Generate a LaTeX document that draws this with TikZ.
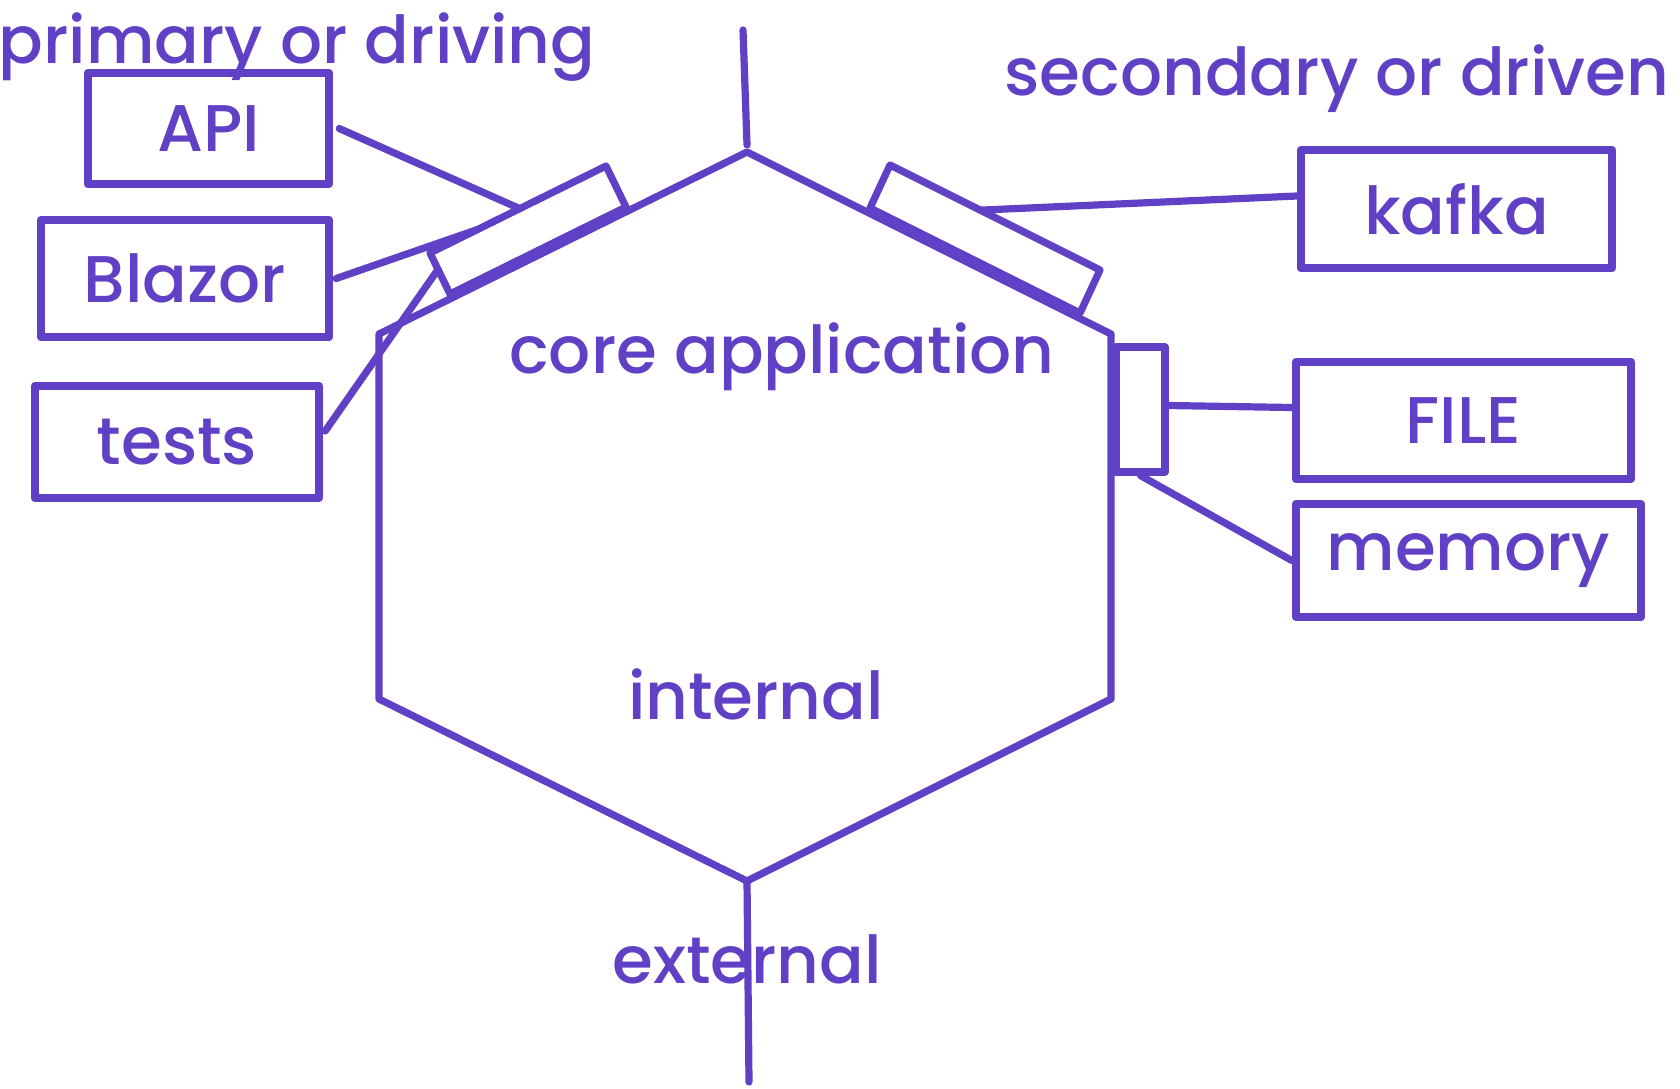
\documentclass[tikz,border=0pt]{standalone}
\usepackage{fontspec}
\setmainfont{Poppins}[UprightFont=* Medium]
\usetikzlibrary{calc}
\definecolor{ink}{RGB}{96,64,196}
\newcommand{\lblfont}{\fontsize{33}{40}\selectfont}
\begin{document}
\begin{tikzpicture}[x=0.5pt,y=-0.5pt, line cap=round, line join=round,
  stroke/.style={draw=ink,line width=3.6pt},
  box/.style={draw=ink, line width=4.2pt, rectangle, inner sep=0pt, text=ink, font=\lblfont},
  lbl/.style={text=ink, font=\lblfont, inner sep=0pt}]
\useasboundingbox (0,0) rectangle (1680,1088);
% hexagon
\coordinate (hT) at (747,152);
\coordinate (hUR) at (1111,334);
\coordinate (hLR) at (1111,699);
\coordinate (hB) at (747,881);
\coordinate (hLL) at (379,699);
\coordinate (hUL) at (379,334);
\draw[stroke] (hT) -- (hUR) -- (hLR) -- (hB) -- (hLL) -- (hUL) -- cycle;
% axis
\coordinate (axT1) at (743,30);
\coordinate (axT2) at (747,145);
\coordinate (axB2) at (749,1082);
\draw[stroke] (axT1) -- (axT2);
\draw[stroke] (hB) -- (axB2);
% left port
\coordinate (lp1) at (450,294);
\coordinate (lp2) at (626,207);
\coordinate (lp3) at (606,166);
\coordinate (lp4) at (430,253);
\draw[stroke] (lp1) -- (lp2) -- (lp3) -- (lp4) -- cycle;
% right port
\coordinate (rp1) at (870,208);
\coordinate (rp2) at (1080,313);
\coordinate (rp3) at (1100,270);
\coordinate (rp4) at (890,165);
\draw[stroke] (rp1) -- (rp2) -- (rp3) -- (rp4) -- cycle;
% vertical port
\node[stroke, minimum width=24.5pt, minimum height=62.5pt, inner sep=0pt] (vport) at (1140.5,409.5) {};
% boxes
\node[box, minimum width=120.5pt, minimum height=55.5pt] (api) at (208.5,128.5) {API};
\node[box, minimum width=144pt, minimum height=58.5pt] (blazor) at (185,278.5) {Blazor};
\node[box, minimum width=142pt, minimum height=56pt] (tests) at (177,442) {tests};
\node[box, minimum width=155.5pt, minimum height=59pt] (kafka) at (1456.5,209) {kafka};
\node[box, minimum width=167.5pt, minimum height=58.5pt] (file) at (1463.5,420.5) {FILE};
\node[box, minimum width=172.5pt, minimum height=56.5pt] (memory) at (1468.5,560.5) {memory};
% connectors
\coordinate (lpa) at ($(lp4)!0.51!(lp3)$);
\coordinate (lpb) at ($(lp4)!0.27!(lp3)$);
\coordinate (lpt) at ($(lp4)!0.4!(lp1)$);
\coordinate (rpk) at ($(rp4)!0.43!(rp3)$);
\draw[stroke] ([xshift=3pt]api.east) -- (lpa);
\draw[stroke] ([xshift=1.5pt]blazor.east) -- (lpb);
\draw[stroke] ([xshift=1pt,yshift=5.5pt]tests.east) -- (lpt);
\draw[stroke] ([yshift=6.5pt]kafka.west) -- (rpk);
\draw[stroke] ([yshift=2pt]vport.east) -- ([yshift=6.5pt]file.west);
\draw[stroke] (vport.south) -- (memory.west);
% labels
\node[lbl] (primary) at (297,47) {primary or driving};
\node[lbl] (secondary) at (1337,79) {secondary or driven};
\node[lbl] (core) at (782,357) {core application};
\node[lbl] (internal) at (756,694) {internal};
\node[lbl] (external) at (747,959) {external};
\end{tikzpicture}
\end{document}
